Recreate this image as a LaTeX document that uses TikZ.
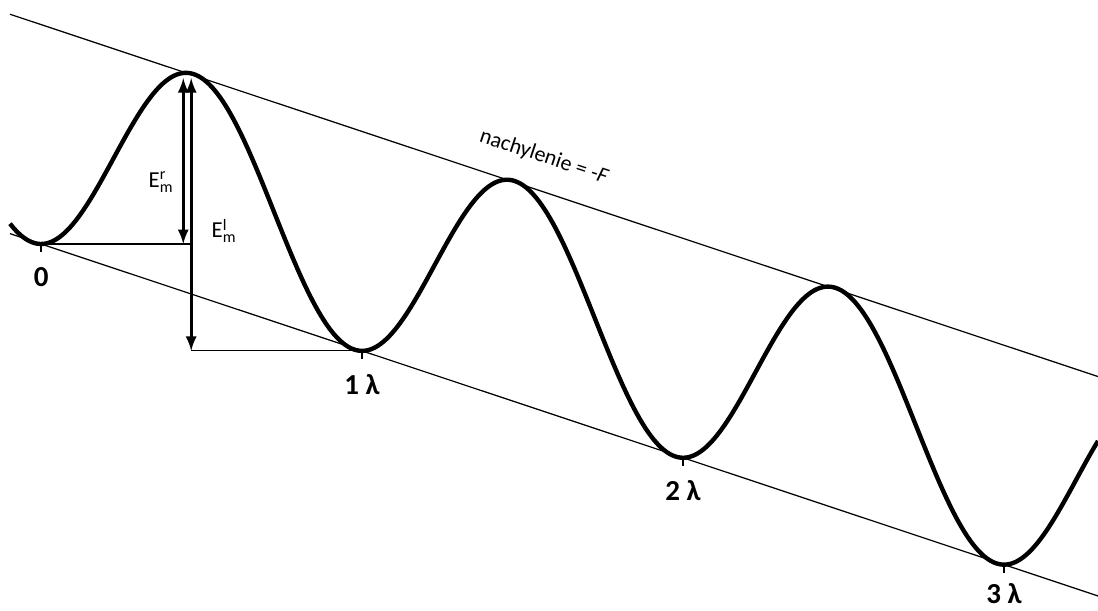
\documentclass[tikz,border=0pt]{standalone}
\usepackage{fontspec}
\setmainfont{Carlito}
\setmathrm{Carlito}
\newcommand{\Elab}[1]{$\mathrm{E}^{\mathrm{#1}}_{\mathrm{m}}$}
\tikzset{
  declare function={pot(\x)=120.6+0.333*\x+111*cos((\x-33.25)/321*360);
                    upline(\x)=10.9+0.333*\x; lowline(\x)=230.3+0.333*\x;},
  curve/.style={line width=2.5pt, line join=round},
  guide/.style={line width=0.7pt},
  energy/.style={<->, line width=1.8pt},
  tick/.style={line width=1.2pt},
  tag/.style={font=\fontsize{16.5}{18}\selectfont\bfseries, inner sep=0pt, anchor=north},
  elab/.style={font=\fontsize{13}{15}\selectfont, inner sep=0pt},
}
\begin{document}
\begin{tikzpicture}[>=latex, x=0.02cm, y=-0.02cm]
\useasboundingbox (0,0) rectangle (1098,610);
% tangent lines (slope)
\coordinate (u0) at (10,{upline(10)});
\coordinate (u1) at (1098,{upline(1098)});
\coordinate (d0) at (10,{lowline(10)});
\coordinate (d1) at (1098,{lowline(1098)});
\draw[guide] (u0) -- (u1);
\draw[guide] (d0) -- (d1);
% potential
\draw[curve] plot[domain=10:1098, samples=400] (\x, {pot(\x)});
% extrema
\coordinate (max0) at (185.9,{pot(185.9)});
\foreach \n in {0,1,2,3}
  \coordinate (min\n) at ({41.1+321*\n},{pot(41.1+321*\n)});
\foreach \n in {0,1,2,3}
  \draw[tick] (min\n) -- ++(0,8);
% energy barriers
\coordinate (rtop) at ([xshift=-1.5pt, yshift=-3pt]max0);
\coordinate (ltop) at ([xshift=3pt, yshift=-3pt]max0);
\coordinate (rbot) at (rtop |- min0);
\coordinate (lmid) at (ltop |- min0);
\coordinate (lbot) at (ltop |- min1);
\draw[guide] (min0) -- (lmid);
\draw[guide] (lbot) -- (min1);
\draw[energy] (rtop) -- (rbot);
\draw[energy] (ltop) -- (lbot);
\node[elab] (er) at (161,182) {\Elab{r}};
\node[elab] (el) at (224,231) {\Elab{l}};
% labels
\node[tag, below=13pt] (t0) at (min0) {0};
\node[tag, below=13pt] (t1) at (min1) {1 λ};
\node[tag, below=13pt] (t2) at (min2) {2 λ};
\node[tag, below=10.5pt] (t3) at (min3) {3 λ};
\node[font=\fontsize{12.5}{14}\selectfont, rotate=-18.4] (nach) at (544,157) {nachylenie = -\textit{F}};
\end{tikzpicture}
\end{document}
